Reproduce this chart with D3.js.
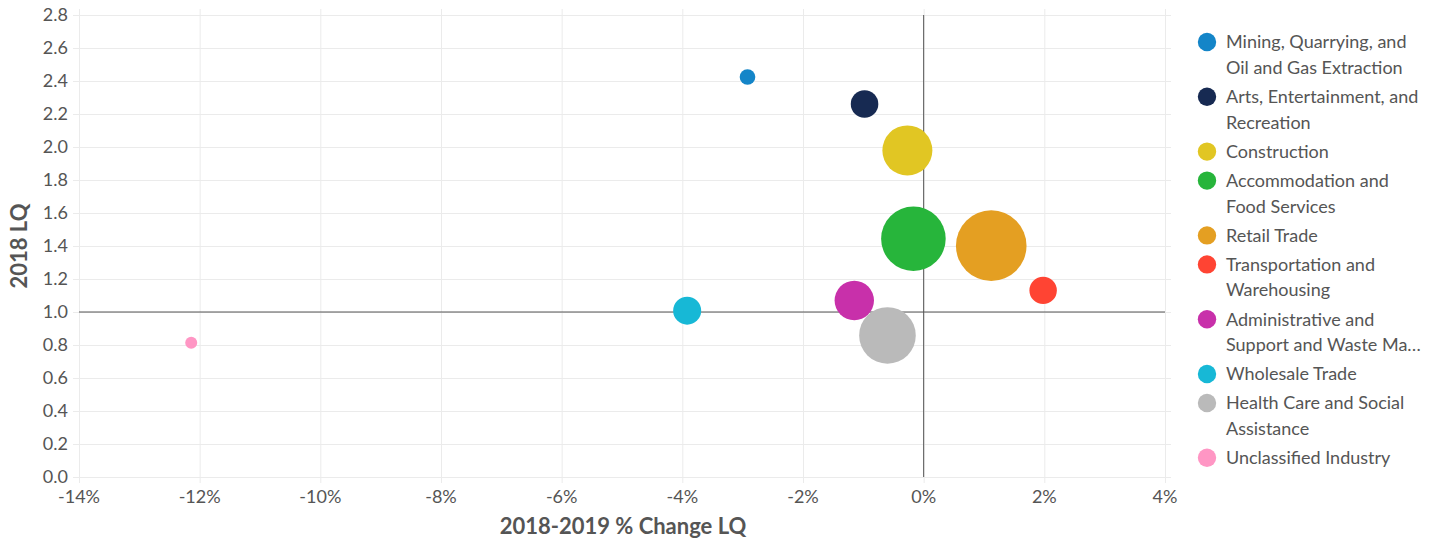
<!DOCTYPE html>
<html lang="en">
<head>
<meta charset="utf-8">
<title>2018 LQ vs 2018-2019 % Change LQ</title>
<script src="https://d3js.org/d3.v7.min.js"></script>
<style>
body { margin: 0; background: #fff; }
text { font-family: Lato, "Open Sans", sans-serif; fill: #555; }
</style>
</head>
<body>
<script>

// industries, in legend order
var industries = [
  "Mining, Quarrying, and Oil and Gas Extraction",
  "Arts, Entertainment, and Recreation",
  "Construction",
  "Accommodation and Food Services",
  "Retail Trade",
  "Transportation and Warehousing",
  "Administrative and Support and Waste Management",
  "Wholesale Trade",
  "Health Care and Social Assistance",
  "Unclassified Industry"
];
// legend labels as they wrap in the box
var legendLines = [
  ["Mining, Quarrying, and", "Oil and Gas Extraction"],
  ["Arts, Entertainment, and", "Recreation"],
  ["Construction"],
  ["Accommodation and", "Food Services"],
  ["Retail Trade"],
  ["Transportation and", "Warehousing"],
  ["Administrative and", "Support and Waste Ma\u2026"],
  ["Wholesale Trade"],
  ["Health Care and Social", "Assistance"],
  ["Unclassified Industry"]
];
var colors = ["#1485c8", "#172a52", "#e1c623", "#27b53b", "#e49f22",
              "#ff4433", "#c830aa", "#17b8d6", "#bababa", "#ff96c4"];

var changeLQ = [-2.92, -0.98, -0.27, -0.17, 1.12, 1.98, -1.15, -3.92, -0.60, -12.14]; // %
var lq2018   = [2.424, 2.261, 1.979, 1.444, 1.402, 1.131, 1.070, 1.008, 0.858, 0.814];
var jobs     = [61, 190, 625, 1043, 1246, 188, 388, 196, 801, 36]; // bubble size

var xTicks = [-14, -12, -10, -8, -6, -4, -2, 0, 2, 4];
var yTicks = [0, 0.2, 0.4, 0.6, 0.8, 1.0, 1.2, 1.4, 1.6, 1.8, 2.0, 2.2, 2.4, 2.6, 2.8];

var w = 1444, h = 541;
var margin = {top: 15, right: 279, bottom: 64, left: 79};

var svg = d3.select("body").append("svg")
  .attr("width", w)
  .attr("height", h);

var x = d3.scaleLinear().domain([-14, 4]).range([margin.left, w - margin.right]);
var y = d3.scaleLinear().domain([0, 2.8]).range([h - margin.bottom, margin.top]);
var r = d3.scaleSqrt().domain([0, d3.max(jobs)]).range([0, 35.3]);

// grid
svg.append("g")
  .attr("transform", "translate(0," + (h - margin.bottom) + ")")
  .call(d3.axisBottom(x).tickValues(xTicks).tickSize(-(h - margin.top - margin.bottom) - 6).tickFormat(""))
  .call(function(g) { g.select(".domain").remove(); })
  .call(function(g) { g.selectAll("line").attr("stroke", "#ebebeb").attr("y1", 6); });

svg.append("g")
  .attr("transform", "translate(" + margin.left + ",0)")
  .call(d3.axisLeft(y).tickValues(yTicks).tickSize(-(w - margin.left - margin.right) - 6).tickFormat(""))
  .call(function(g) { g.select(".domain").remove(); })
  .call(function(g) { g.selectAll("line").attr("stroke", "#ebebeb").attr("x1", -6); });

// tick labels
svg.append("g").selectAll("text")
  .data(xTicks)
  .enter().append("text")
  .attr("x", function(d) { return x(d); })
  .attr("y", h - margin.bottom + 26)
  .attr("text-anchor", "middle")
  .attr("font-size", "18px")
  .text(function(d) { return d + "%"; });

svg.append("g").selectAll("text")
  .data(yTicks)
  .enter().append("text")
  .attr("x", margin.left - 11)
  .attr("y", function(d) { return y(d); })
  .attr("dy", "0.35em")
  .attr("text-anchor", "end")
  .attr("font-size", "18px")
  .text(function(d) { return d3.format(".1f")(d); });

// reference lines at 0% and LQ 1.0
svg.append("line")
  .attr("x1", x(0)).attr("x2", x(0))
  .attr("y1", y(2.8)).attr("y2", y(0))
  .attr("stroke", "#555").attr("stroke-width", 1);
svg.append("line")
  .attr("x1", x(-14)).attr("x2", x(4))
  .attr("y1", y(1)).attr("y2", y(1))
  .attr("stroke", "#555").attr("stroke-width", 1);

// bubbles
svg.append("g").selectAll("circle")
  .data(industries)
  .enter().append("circle")
  .attr("cx", function(d, i) { return x(changeLQ[i]); })
  .attr("cy", function(d, i) { return y(lq2018[i]); })
  .attr("r", function(d, i) { return r(jobs[i]); })
  .style("fill", function(d, i) { return colors[i]; });

// axis titles
svg.append("text")
  .attr("transform", "translate(27,246) rotate(-90)")
  .attr("text-anchor", "middle")
  .attr("font-size", "22px")
  .attr("font-weight", "bold")
  .text("2018 LQ");

svg.append("text")
  .attr("x", 623)
  .attr("y", 534)
  .attr("text-anchor", "middle")
  .attr("font-size", "22px")
  .attr("font-weight", "bold")
  .text("2018-2019 % Change LQ");

// legend
var ly = 42;
var legend = svg.append("g").attr("class", "legend");
legendLines.forEach(function(lines, i) {
  var item = legend.append("g").attr("transform", "translate(0," + ly + ")");
  item.append("circle")
    .attr("cx", 1207).attr("cy", 0).attr("r", 9.2)
    .style("fill", colors[i]);
  item.selectAll("text")
    .data(lines)
    .enter().append("text")
    .attr("x", 1226)
    .attr("y", function(d, j) { return j * 25.8; })
    .attr("dy", "0.35em")
    .attr("font-size", "18px")
    .text(function(d) { return d; });
  ly += 29 + 25.8 * (lines.length - 1);
});

</script>
</body>
</html>
